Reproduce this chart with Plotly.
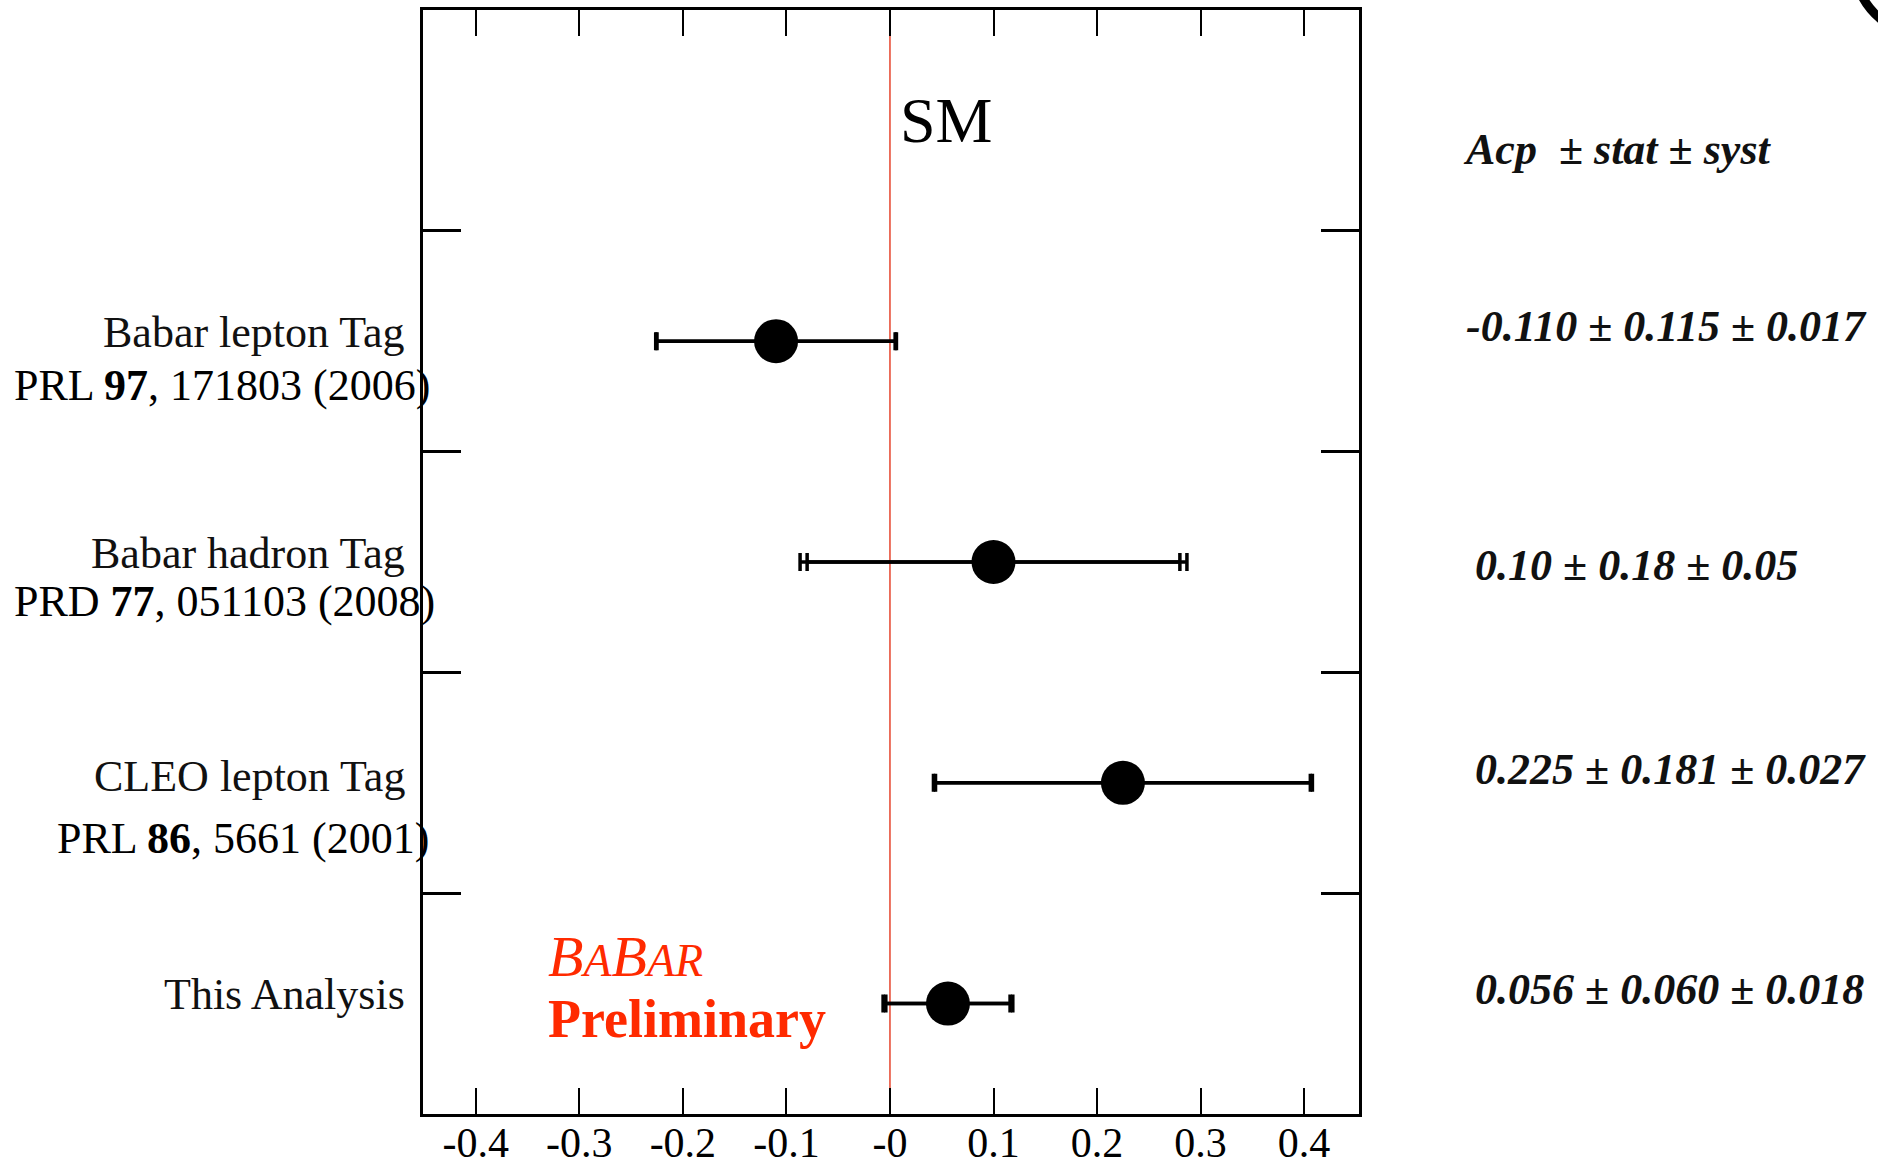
import numpy as np
import plotly.graph_objects as go

# ---- data ----
labels = ["Babar lepton Tag", "Babar hadron Tag", "CLEO lepton Tag", "This Analysis"]
refs = ["PRL <b>97</b>, 171803 (2006)", "PRD <b>77</b>, 051103 (2008)", "PRL <b>86</b>, 5661 (2001)", ""]
acp = [-0.110, 0.10, 0.225, 0.056]
stat = [0.115, 0.18, 0.181, 0.060]
syst = [0.017, 0.05, 0.027, 0.018]
value_text = ["-0.110 ± 0.115 ± 0.017", "0.10 ± 0.18 ± 0.05",
              "0.225 ± 0.181 ± 0.027", "0.056 ± 0.060 ± 0.018"]
ypos = [3.5, 2.5, 1.5, 0.5]
xtick_vals = [-0.4, -0.3, -0.2, -0.1, 0.0, 0.1, 0.2, 0.3, 0.4]
xtick_text = ["-0.4", "-0.3", "-0.2", "-0.1", "-0", "0.1", "0.2", "0.3", "0.4"]

total = list(np.sqrt(np.array(stat) ** 2 + np.array(syst) ** 2))

W, H = 1878, 1168
L, R, T, B = 423, 519, 10, 54
PW, PH = W - L - R, H - T - B

def px(xp):
    return (xp - L) / PW

def py(yp):
    return (H - B - yp) / PH

SERIF = "Liberation Serif, Times New Roman, serif"
RED = "#ff2a00"

fig = go.Figure()

# SM line
fig.add_shape(type="line", x0=0, x1=0, y0=0, y1=5, xref="x", yref="y",
              line=dict(color="#e8503a", width=1.6), layer="below")

# total error bars (outer caps)
fig.add_trace(go.Scatter(
    x=acp, y=ypos, mode="markers",
    marker=dict(size=0.1, color="black", opacity=0),
    error_x=dict(type="data", array=total, symmetric=True, color="black",
                 thickness=3.5, width=9),
    showlegend=False, hoverinfo="skip"))
# stat error bars (inner caps) + points
fig.add_trace(go.Scatter(
    x=acp, y=ypos, mode="markers",
    marker=dict(size=44, color="black"),
    error_x=dict(type="data", array=stat, symmetric=True, color="black",
                 thickness=3.5, width=9),
    showlegend=False))

ann = []
# SM label
ann.append(dict(x=0.008, y=4.5, xref="x", yref="y", text="SM", showarrow=False,
                xanchor="left", yanchor="middle",
                font=dict(family=SERIF, size=64, color="black")))

# category labels
name_dy = [0.04, 0.04, 0.03, 0.04]
ref_dy = [-0.20, -0.18, -0.25, 0]
ref_x = [12, 12, 55, 12]
for i in range(4):
    ann.append(dict(x=px(407), y=ypos[i] + name_dy[i], xref="paper", yref="y",
                    text=labels[i], showarrow=False, xanchor="right", yanchor="middle",
                    font=dict(family=SERIF, size=44, color="#111111")))
    if refs[i]:
        ann.append(dict(x=px(ref_x[i]), y=ypos[i] + ref_dy[i], xref="paper", yref="y",
                        text=refs[i], showarrow=False, xanchor="left", yanchor="middle",
                        font=dict(family=SERIF, size=44, color="black")))

# right-side values
ann.append(dict(x=px(1461), y=4.37, xref="paper", yref="y",
                text="<b><i>Acp  ± stat ± syst</i></b>", showarrow=False,
                xanchor="left", yanchor="middle",
                font=dict(family=SERIF, size=44, color="#111111")))
val_dy = [0.067, -0.015, 0.062, 0.066]
val_x = [1464, 1473, 1473, 1473]
for i in range(4):
    ann.append(dict(x=px(val_x[i]), y=ypos[i] + val_dy[i], xref="paper", yref="y",
                    text="<b><i>" + value_text[i] + "</i></b>", showarrow=False,
                    xanchor="left", yanchor="middle",
                    font=dict(family=SERIF, size=44, color="#111111")))

# BaBar Preliminary
ann.append(dict(x=-0.332, y=0.715, xref="x", yref="y",
                text="<i>B<span style='font-size:46px'>A</span>B<span style='font-size:46px'>AR</span></i>",
                showarrow=False, xanchor="left", yanchor="middle",
                font=dict(family=SERIF, size=58, color=RED)))
ann.append(dict(x=-0.332, y=0.43, xref="x", yref="y",
                text="<b>Preliminary</b>", showarrow=False, xanchor="left", yanchor="middle",
                font=dict(family=SERIF, size=54, color=RED)))

# corner fragment at top right
fig.add_shape(type="path", xref="paper", yref="paper",
              path=f"M {px(1862)},{py(-4)} Q {px(1869)},{py(10)} {px(1884)},{py(22)}",
              line=dict(color="black", width=9))

fig.update_layout(
    width=W, height=H,
    margin=dict(l=L, r=R, t=T, b=B, autoexpand=False),
    paper_bgcolor="white", plot_bgcolor="white",
    annotations=ann,
    xaxis=dict(range=[-0.451, 0.453], tickvals=xtick_vals, ticktext=xtick_text,
               ticks="inside", ticklen=26, tickwidth=2, tickcolor="black",
               showline=True, linecolor="black", linewidth=2.5, mirror="ticks",
               showgrid=False, zeroline=False, ticklabelstandoff=-10,
               tickfont=dict(family=SERIF, size=42, color="black")),
    yaxis=dict(range=[0, 5], tickvals=[1, 2, 3, 4], showticklabels=False,
               ticks="inside", ticklen=38, tickwidth=2.5, tickcolor="black",
               showline=True, linecolor="black", linewidth=2.5, mirror="ticks",
               showgrid=False, zeroline=False),
)

fig.write_html("out.html", config={"displayModeBar": False},
               post_script="document.body.style.margin='0';document.body.style.padding='0';document.body.style.overflow='hidden';")
